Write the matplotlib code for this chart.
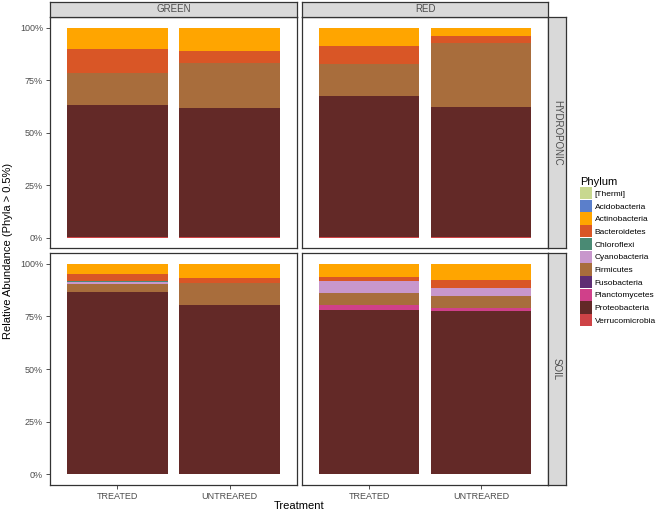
import matplotlib
matplotlib.use("Agg")
import matplotlib.pyplot as plt
from matplotlib.patches import Patch
from matplotlib.ticker import FixedLocator

plt.rcParams['font.family'] = ['Liberation Sans', 'DejaVu Sans']

# ---------------- data ----------------
phyla = ["[Thermi]", "Acidobacteria", "Actinobacteria", "Bacteroidetes", "Chloroflexi",
         "Cyanobacteria", "Firmicutes", "Fusobacteria", "Planctomycetes",
         "Proteobacteria", "Verrucomicrobia"]
colors = ["#C8D88F", "#5B7FCB", "#FFA500", "#D95626", "#4A8A74",
          "#C897CC", "#A86D3C", "#5E2D73", "#D0408A", "#632927", "#CE4346"]

treatments = ["TREATED", "UNTREARED"]
colours_fac = ["GREEN", "RED"]
substrates = ["HYDROPONIC", "SOIL"]

# sample order: HYD-GREEN-T, HYD-GREEN-U, HYD-RED-T, HYD-RED-U,
#               SOIL-GREEN-T, SOIL-GREEN-U, SOIL-RED-T, SOIL-RED-U
thermi          = [0, 0, 0, 0, 0, 0, 0, 0]
acidobacteria   = [0, 0, 0, 0, 0, 0, 0, 0]
actinobacteria  = [10.2, 11.1, 8.9, 4.0, 4.9, 6.8, 6.2, 7.6]
bacteroidetes   = [11.4, 5.9, 8.4, 3.6, 3.3, 2.3, 1.8, 3.8]
chloroflexi     = [0, 0, 0, 0, 0.5, 0, 0, 0]
cyanobacteria   = [0, 0, 0, 0, 0.9, 0, 5.9, 3.7]
firmicutes      = [15.3, 21.2, 15.3, 30.1, 4.0, 10.6, 5.8, 5.9]
fusobacteria    = [0, 0, 0, 0, 0, 0, 0, 0]
planctomycetes  = [0, 0, 0, 0, 0, 0, 2.4, 1.6]
proteobacteria  = [62.9, 61.6, 67.2, 62.1, 86.1, 80.0, 77.6, 77.1]
verrucomicrobia = [0.2, 0.2, 0.2, 0.2, 0.3, 0.3, 0.3, 0.3]

values = [thermi, acidobacteria, actinobacteria, bacteroidetes, chloroflexi,
          cyanobacteria, firmicutes, fusobacteria, planctomycetes,
          proteobacteria, verrucomicrobia]

ytick_vals = [0, 25, 50, 75, 100]
ytick_labels = ["0%", "25%", "50%", "75%", "100%"]

# ---------------- layout ----------------
W, H = 656, 511
fig = plt.figure(figsize=(W / 100, H / 100), dpi=100)

def px_axes(x0, y0, x1, y1):
    return fig.add_axes([x0 / W, 1 - y1 / H, (x1 - x0) / W, (y1 - y0) / H])

col_x = [(50, 297), (301.7, 548.3)]
row_y = [(17, 248.3), (253.3, 485)]
grey_txt = "#4D4D4D"
border = "#333333"
strip_fill = "#D9D9D9"

for r, sub in enumerate(substrates):
    for c, col in enumerate(colours_fac):
        x0, x1 = col_x[c]
        y0, y1 = row_y[r]
        ax = px_axes(x0, y0, x1, y1)
        idx = [r * 4 + c * 2 + k for k in range(2)]
        xs = [1, 2]
        bottom = [0.0, 0.0]
        for name, colr, vals in reversed(list(zip(phyla, colors, values))):
            h = [vals[i] for i in idx]
            ax.bar(xs, h, width=0.9, bottom=bottom, color=colr, linewidth=0)
            bottom = [b + v for b, v in zip(bottom, h)]
        ax.set_xlim(0.4, 2.6)
        ax.set_ylim(-5, 105)
        ax.set_facecolor("white")
        for s in ax.spines.values():
            s.set_color(border)
            s.set_linewidth(0.9)
        ax.yaxis.set_major_locator(FixedLocator(ytick_vals))
        ax.set_xticks(xs)
        ax.tick_params(axis="both", length=3, width=0.6, color=border,
                       labelsize=6.5, labelcolor=grey_txt, pad=2)
        if c == 0:
            ax.set_yticklabels(ytick_labels)
        else:
            ax.tick_params(axis="y", left=False, labelleft=False)
        if r == 1:
            ax.set_xticklabels(treatments)
        else:
            ax.tick_params(axis="x", bottom=False, labelbottom=False)

        # top strips
        if r == 0:
            sax = px_axes(x0, 2, x1, 17)
            sax.set_facecolor(strip_fill)
            sax.set_xticks([]); sax.set_yticks([])
            for s in sax.spines.values():
                s.set_color(border); s.set_linewidth(0.9)
            sax.text(0.5, 0.5, col, ha="center", va="center", fontsize=7,
                     color=grey_txt, transform=sax.transAxes)
        # right strips
        if c == 1:
            sax = px_axes(548.3, y0, 565.7, y1)
            sax.set_facecolor(strip_fill)
            sax.set_xticks([]); sax.set_yticks([])
            for s in sax.spines.values():
                s.set_color(border); s.set_linewidth(0.9)
            sax.text(0.5, 0.5, sub, ha="center", va="center", fontsize=7,
                     color=grey_txt, rotation=-90, transform=sax.transAxes)

# axis titles
fig.text((50 + 548.3) / 2 / W, 1 - 506 / H, "Treatment", ha="center", va="center",
         fontsize=8, color="black")
fig.text(8 / W, 1 - 251 / H, "Relative Abundance (Phyla > 0.5%)", ha="center",
         va="center", rotation=90, fontsize=8, color="black")

# legend
handles = [Patch(facecolor=cc, edgecolor="none") for cc in colors]
leg = fig.legend(handles, phyla, loc="upper left",
                 bbox_to_anchor=(578 / W, 1 - 175 / H), frameon=False,
                 title="Phylum", fontsize=6, title_fontsize=8,
                 handlelength=1.48, handleheight=1.89, labelspacing=0.05,
                 handletextpad=0.3, borderpad=0.2, borderaxespad=0)
leg._legend_box.align = "left"

fig.savefig("out.png", dpi=100, facecolor="white")
